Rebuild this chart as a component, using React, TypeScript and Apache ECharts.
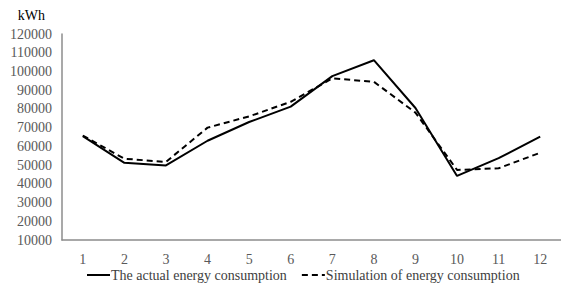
import React, { useEffect, useRef } from "react";
import * as echarts from "echarts";

const months = ["1", "2", "3", "4", "5", "6", "7", "8", "9", "10", "11", "12"];
const actualEnergy = [65500, 51200, 49800, 63000, 73000, 81200, 97500, 106000, 80500, 44200, 53700, 65200];
const simulatedEnergy = [65800, 53400, 51700, 70000, 76000, 83800, 96300, 94500, 78000, 47400, 48300, 56600];
const seriesNames = ["The actual energy consumption", "Simulation of energy consumption"];
const yUnit = "kWh";

export default function App() {
  const ref = useRef<HTMLDivElement>(null);
  useEffect(() => {
    if (!ref.current) return;
    const chart = echarts.init(ref.current, null, { renderer: "svg" });
    const font = "Liberation Serif";
    chart.setOption({
      animation: false,
      backgroundColor: "#ffffff",
      textStyle: { fontFamily: font },
      grid: { left: 62, right: -5, top: 34, bottom: 45, containLabel: false },
      legend: {
        left: 81,
        top: 263,
        itemWidth: 23,
        itemHeight: 12,
        itemGap: 14,
        itemStyle: { color: "rgba(0,0,0,0)", borderWidth: 0, opacity: 0 },
        textStyle: { fontFamily: font, fontSize: 14, color: "#404040", padding: [0, 0, 0, -4] },
        data: seriesNames,
      },
      xAxis: {
        type: "category",
        data: months,
        boundaryGap: true,
        axisLine: { show: true, lineStyle: { color: "#8c8c8c", width: 1.5 } },
        axisTick: { show: false },
        axisLabel: { color: "#595959", fontFamily: font, fontSize: 14, margin: 12 },
        splitLine: { show: false },
      },
      yAxis: {
        type: "value",
        min: 10000,
        max: 120000,
        interval: 10000,
        name: yUnit,
        nameLocation: "end",
        nameGap: 12,
        nameTextStyle: { color: "#000000", fontFamily: font, fontSize: 14, align: "right", padding: [0, 17, 0, 0] },
        axisLine: { show: true, lineStyle: { color: "#8c8c8c", width: 1.5 } },
        axisTick: { show: false },
        axisLabel: { color: "#595959", fontFamily: font, fontSize: 14, margin: 10, formatter: (v: number) => String(v) },
        splitLine: { show: false },
      },
      series: [
        {
          name: seriesNames[0],
          type: "line",
          data: actualEnergy,
          symbol: "none",
          lineStyle: { color: "#000000", width: 2, type: "solid" },
          itemStyle: { color: "#000000" },
        },
        {
          name: seriesNames[1],
          type: "line",
          data: simulatedEnergy,
          symbol: "none",
          lineStyle: { color: "#000000", width: 2, type: [6, 4] },
          itemStyle: { color: "#000000" },
        },
      ],
    });
    return () => chart.dispose();
  }, []);
  return <div ref={ref} style={{ width: 561, height: 285, position: "fixed", left: 0, top: 0 }} />;
}
